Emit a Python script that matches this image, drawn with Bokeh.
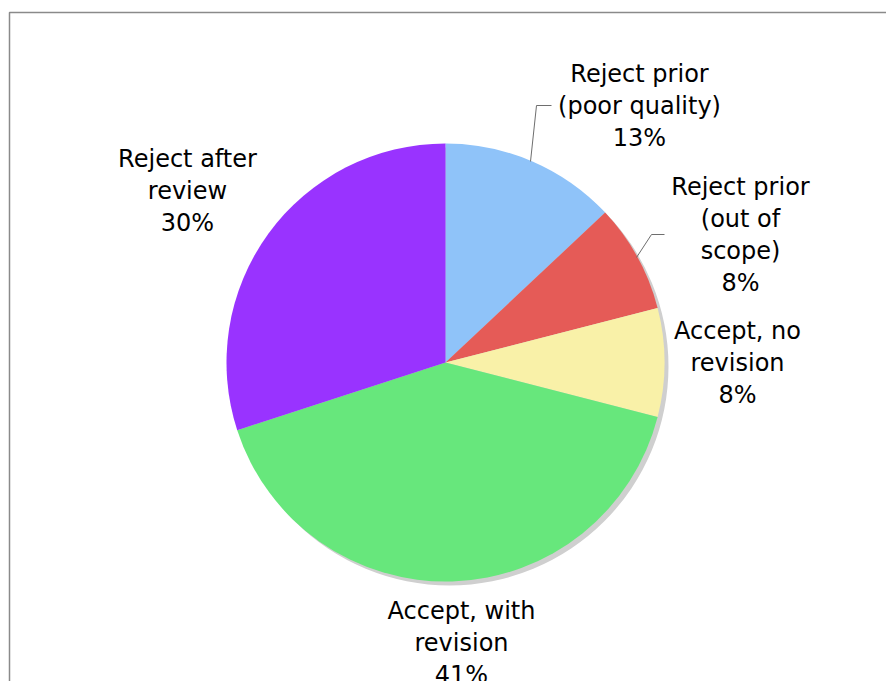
import math
from bokeh.plotting import figure
from bokeh.models import Range1d, ColumnDataSource
from bokeh.core.properties import value
from bokeh.embed import file_html
from bokeh.resources import INLINE

# ---- data ----
categories = ["Reject prior\n(poor quality)", "Reject prior\n(out of\nscope)",
              "Accept, no\nrevision", "Accept, with\nrevision", "Reject after\nreview"]
shares = [13, 8, 8, 41, 30]
colors = ["#8FC3F9", "#E55B57", "#F9F1A8", "#67E77C", "#9933FF"]

# ---- layout ----
W, H = 886, 681
CX, CY_PX, R = 445, 362, 219
label_pos_px = [(639, 73), (740, 186), (737, 330), (461, 610), (187, 158)]
LINE_H = 32
FONT = "DejaVu Sans"

def Y(py):
    return H - py

p = figure(width=W, height=H, output_backend="svg", toolbar_location=None,
           x_range=Range1d(0, W), y_range=Range1d(0, H), min_border=0)
p.axis.visible = False
p.grid.visible = False
p.outline_line_color = None

# frame
p.line(x=[9, 9, W + 5], y=[Y(H + 5), Y(12), Y(12)], line_color="#8A8A8A", line_width=1.5)

# wedges
total = sum(shares)
starts, ends = [], []
acc = 0.0
for v in shares:
    a0 = math.pi / 2 - 2 * math.pi * acc / total
    acc += v
    a1 = math.pi / 2 - 2 * math.pi * acc / total
    starts.append(a0)
    ends.append(a1)

# shadow
p.circle(x=[CX + 4], y=[Y(CY_PX + 4)], radius=R, fill_color="#CFCFCF", line_color=None)

src = ColumnDataSource(dict(x=[CX] * len(shares), y=[Y(CY_PX)] * len(shares),
                            start=starts, end=ends, color=colors))
p.wedge(x="x", y="y", radius=R, start_angle="start", end_angle="end", direction="clock",
        fill_color="color", line_color=None, source=src)

# leader lines
p.line(x=[530, 536, 551], y=[Y(161), Y(105), Y(105)], line_color="#6E6E6E", line_width=1)
p.line(x=[636, 651, 664], y=[Y(257), Y(234), Y(234)], line_color="#6E6E6E", line_width=1)

# labels
tx, ty, tt = [], [], []
for cat, v, (lx, ly) in zip(categories, shares, label_pos_px):
    lines = cat.split("\n") + [f"{v}%"]
    for i, ln in enumerate(lines):
        tx.append(lx)
        ty.append(Y(ly + i * LINE_H))
        tt.append(ln)
p.text(x=tx, y=ty, text=tt, text_font=value(FONT), text_font_size="24px",
       text_align="center", text_baseline="middle", text_color="#000000")

open("out.html", "w").write(file_html(p, INLINE))
